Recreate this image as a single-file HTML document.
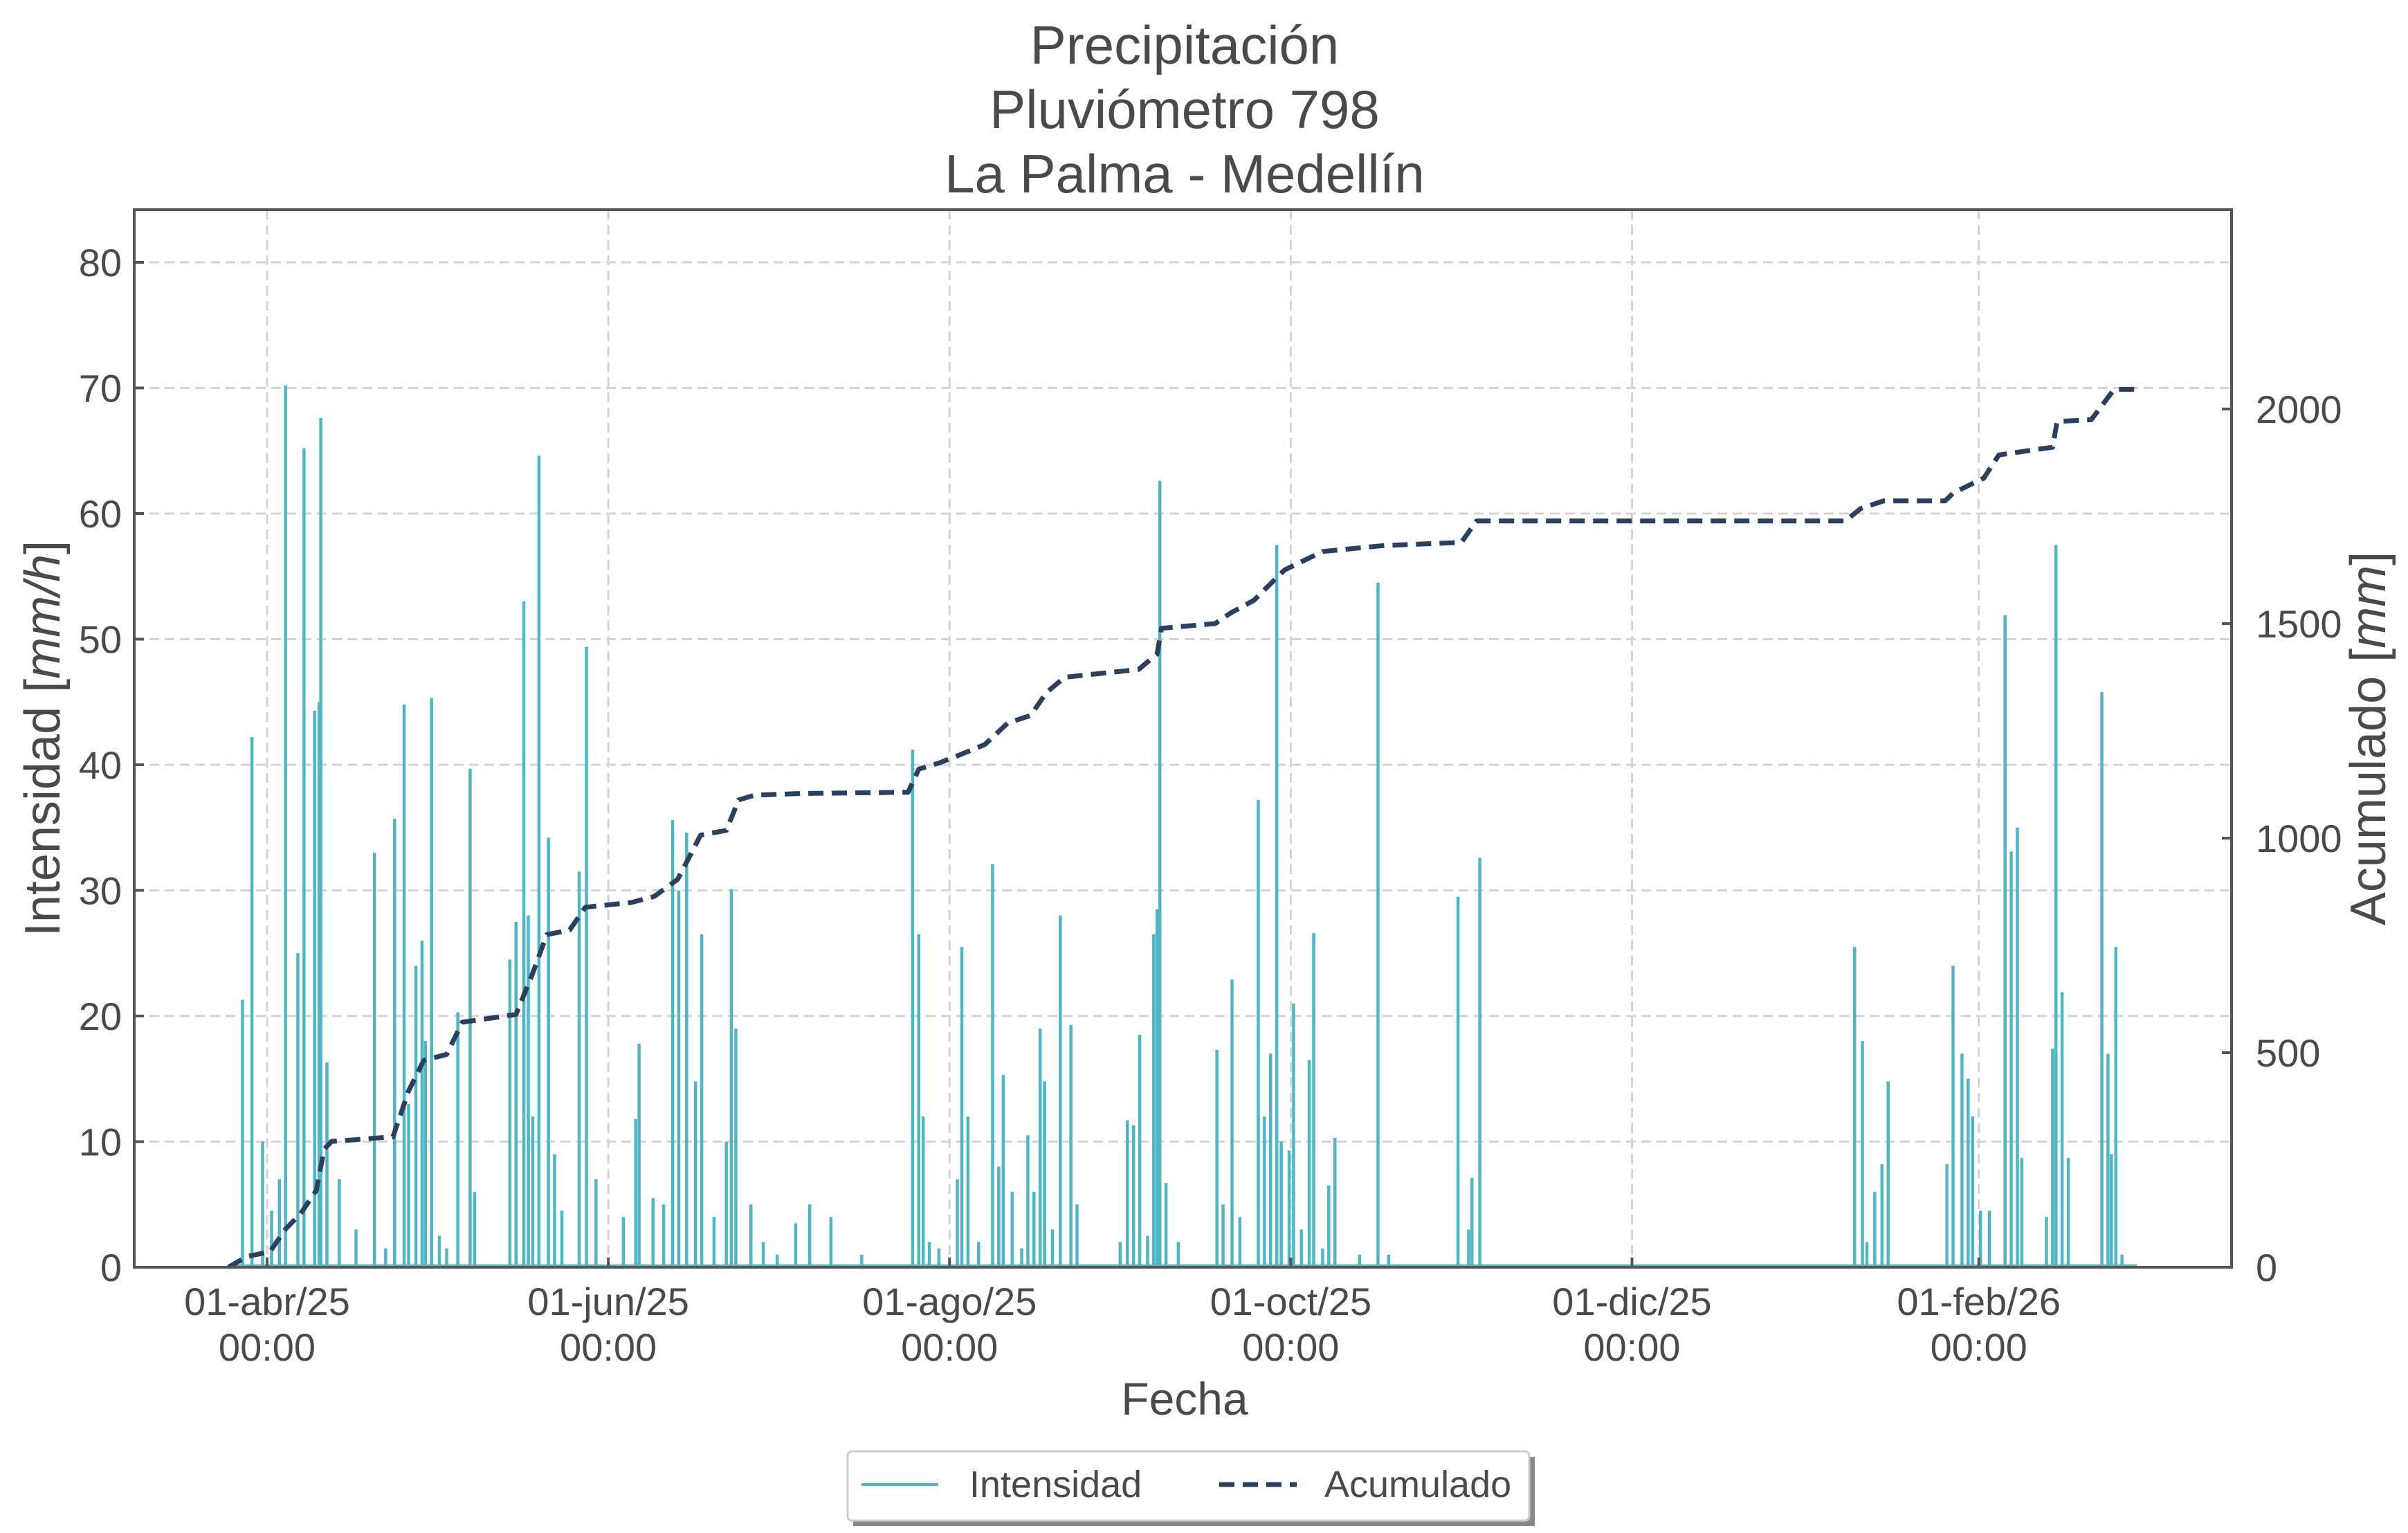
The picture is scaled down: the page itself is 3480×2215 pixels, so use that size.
<!DOCTYPE html>
<html><head><meta charset="utf-8"><style>
html,body{margin:0;padding:0;background:#fff}
svg{display:block}
text{font-family:"Liberation Sans",sans-serif;fill:#4a4a4a}
</style></head><body>
<svg id="chart" xmlns="http://www.w3.org/2000/svg" width="3480" height="2215" viewBox="0 0 3480 2215">
<rect width="3480" height="2215" fill="#fff"/>
<g font-size="78" text-anchor="middle">
<text x="1712" y="92">Precipitación</text>
<text x="1712" y="185">Pluviómetro 798</text>
<text x="1712" y="278">La Palma - Medellín</text>
</g>
<g id="grid"></g>
<g id="bars"></g>
<g id="cum"></g>
<rect x="194" y="303" width="3031" height="1528" fill="none" stroke="#555" stroke-width="4"/>
<g id="axes"></g>
<text x="1712" y="2044" font-size="66" text-anchor="middle">Fecha</text>
<text transform="translate(86,1067) rotate(-90)" font-size="72" text-anchor="middle">Intensidad [<tspan font-style="italic">mm/h</tspan>]</text>
<text transform="translate(3447,1067) rotate(-90)" font-size="72" text-anchor="middle">Acumulado [<tspan font-style="italic">mm</tspan>]</text>
<g>
<rect x="1233" y="2105" width="985" height="100" fill="#888"/>
<rect x="1225" y="2097" width="985" height="100" fill="#fff" stroke="#ccc" stroke-width="3" rx="6"/>
<line x1="1245" y1="2145" x2="1356" y2="2145" stroke="#4fb6c5" stroke-width="4"/>
<text x="1401" y="2163" font-size="54">Intensidad</text>
<line x1="1762" y1="2145" x2="1874" y2="2145" stroke="#2b3f5e" stroke-width="7" stroke-dasharray="22,12"/>
<text x="1914" y="2163" font-size="54">Acumulado</text>
</g>
</svg>
<script>
const barDays=[-4.4,-2.7,-0.8,0.8,2.2,3.3,5.5,6.6,8.5,9.3,9.6,10.7,12.9,15.9,19.2,21.2,22.8,24.5,25.3,26.6,27.7,28.3,29.4,30.8,32.1,34.1,36.3,37.1,43.4,44.5,45.9,46.7,47.5,48.6,50.3,51.4,52.7,55.8,57.1,58.8,63.7,65.9,66.5,69,70.9,72.5,73.6,75,76.6,77.7,79.9,82.1,83,83.8,86.5,88.7,91.2,94.5,97,100.8,106.3,115.4,116.5,117.3,118.4,120.1,123.4,124.2,125.3,127.2,129.7,130.8,131.6,133.2,134.9,136,137.1,138.2,139,140.4,141.8,143.7,144.8,152.5,153.8,154.9,156,157.4,158.5,159.1,159.6,160.7,162.9,169.8,170.9,172.5,173.9,177.2,178.3,179.4,180.5,181.3,182.7,183.5,184.9,186.3,187.1,188.7,189.8,190.9,195.3,198.6,200.5,212.9,214.8,215.4,216.8,283.8,285.2,286,287.4,288.7,289.8,300.3,301.4,303,304.1,304.9,306.3,307.9,310.7,311.8,312.9,313.7,318.1,319.2,319.8,320.9,322,328,329.1,329.7,330.5,331.6];
const barValues=[21.3,42.2,10,4.5,7,70.2,25,65.2,44.3,45,67.6,16.3,7,3,33,1.5,35.7,44.8,13,24,26,18,45.3,2.5,1.5,20.3,39.7,6,24.5,27.5,53,28,12,64.6,34.2,9,4.5,31.5,49.4,7,4,11.8,17.8,5.5,5,35.6,30,34.6,14.8,26.5,4,10,30.1,19,5,2,1,3.5,5,4,1,41.2,26.5,12,2,1.5,7,25.5,12,2,32.1,8,15.3,6,1.5,10.5,6,19,14.8,3,28,19.3,5,2,11.7,11.3,18.5,2.5,26.5,28.5,62.6,6.7,2,17.3,5,22.9,4,37.2,12,17,57.5,10,9.3,21,3,16.5,26.6,1.5,6.5,10.3,1,54.5,1,29.5,3,7.1,32.6,25.5,18,2,6,8.2,14.8,8.2,24,17,15,12,4.5,4.5,51.9,33.1,35,8.7,4,17.4,57.5,21.9,8.7,45.8,17,9,25.5,1];
const cumDays=[-6.9,-3.6,0.5,3.3,6,8.8,10.2,11.5,22.5,25.3,28,32.1,34.9,44.5,47.3,50,54.1,56.9,65.1,69.2,73.4,77.5,82.1,84.3,87.1,95.3,114.6,116.5,120.1,124.2,128.3,132.4,136.5,139.3,142.6,155.8,159.1,159.9,169.5,172.3,176.4,179.1,181.9,188.7,199.7,213.5,216.2,282.1,284.9,289,300,301.4,306.9,309.6,319.2,320,326.1,330.2,334.3];
const cumValues=[0,25,36,89,125,179,275,293,304,411,482,496,571,589,679,775,786,839,850,864,904,1007,1018,1089,1100,1104,1107,1161,1175,1196,1218,1268,1286,1339,1375,1393,1429,1489,1500,1525,1554,1589,1625,1668,1682,1689,1739,1739,1768,1786,1786,1804,1839,1893,1911,1971,1975,2046,2046];
const leftTicks=[0,10,20,30,40,50,60,70,80];
const rightTicks=[0,500,1000,1500,2000];
const xTickDays=[0,61,122,183,244,306];
const xTickLabels=["01-abr/25","01-jun/25","01-ago/25","01-oct/25","01-dic/25","01-feb/26"];

const L=194,R=3225,T=303,B=1831;
const X=d=>386+d*8.084;
const YL=v=>B-v*18.15;
const YR=v=>B-v*0.62;
const NS="http://www.w3.org/2000/svg";
function mk(tag,attrs,parent,txt){const e=document.createElementNS(NS,tag);for(const k in attrs)e.setAttribute(k,attrs[k]);if(txt!==undefined)e.textContent=txt;parent.appendChild(e);return e;}
const grid=document.getElementById('grid'),axes=document.getElementById('axes'),bars=document.getElementById('bars'),cum=document.getElementById('cum');
leftTicks.forEach(v=>{
  const y=YL(v);
  const g=mk('line',{x1:L,x2:R,y1:y,y2:y,stroke:'#d4d4d4','stroke-width':3,'stroke-dasharray':'14,8'},grid);
  
  
  const t=mk('line',{x1:L,x2:L+14,y1:y,y2:y,stroke:'#555','stroke-width':4},axes);
  
  
  const l=mk('text',{x:176,y:y+20,'font-size':56,'text-anchor':'end'},axes,String(v));
  
  
});
rightTicks.forEach(v=>{
  const y=YR(v);
  const t=mk('line',{x1:R-14,x2:R,y1:y,y2:y,stroke:'#555','stroke-width':4},axes);
  
  
  const l=mk('text',{x:3260,y:y+20,'font-size':56},axes,String(v));
  
  
});
xTickDays.forEach((d,i)=>{
  const x=X(d);
  const g=mk('line',{x1:x,x2:x,y1:T,y2:B,stroke:'#d4d4d4','stroke-width':3,'stroke-dasharray':'14,8'},grid);
  
  
  const t=mk('line',{x1:x,x2:x,y1:B-14,y2:B,stroke:'#555','stroke-width':4},axes);
  
  
  const l1=mk('text',{x:x,y:1900,'font-size':56,'text-anchor':'middle'},axes,xTickLabels[i]);
  
  
  const l2=mk('text',{x:x,y:1966,'font-size':56,'text-anchor':'middle'},axes,'00:00');
  
  
});
const base=mk('line',{x1:X(-6.9),x2:X(334.3),y1:YL(0)-2,y2:YL(0)-2,stroke:'#4fb6c5','stroke-width':4},bars);


barDays.forEach((d,i)=>{
  const b=mk('line',{x1:X(d),x2:X(d),y1:YL(0),y2:YL(barValues[i]),stroke:'#4fb6c5','stroke-width':4.5},bars);
  
  
});
let p='';
cumDays.forEach((d,i)=>{p+=(i?'L':'M')+X(d).toFixed(1)+','+YR(cumValues[i]).toFixed(1);});
const cl=mk('path',{d:p,fill:'none',stroke:'#2b3f5e','stroke-width':7,'stroke-dasharray':'22,12','stroke-linejoin':'round'},cum);


</script>
</body></html>
